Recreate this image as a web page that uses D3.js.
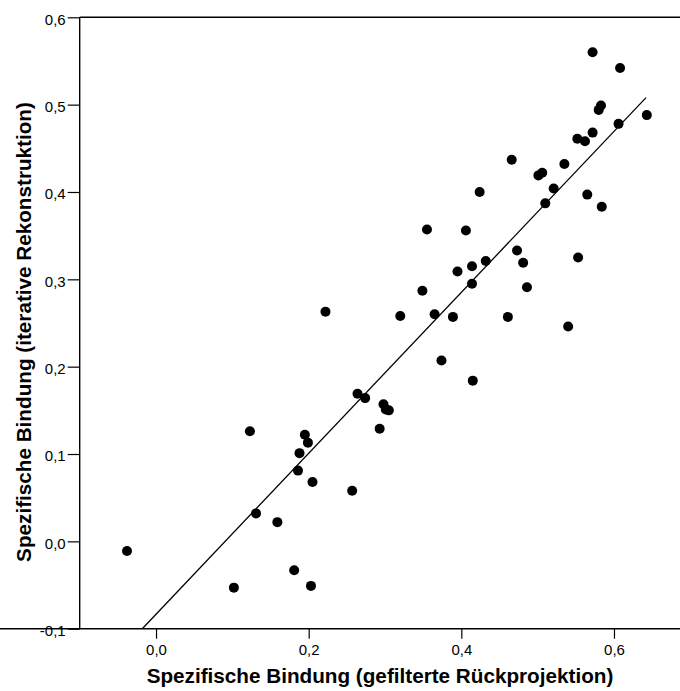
<!DOCTYPE html>
<html><head><meta charset="utf-8">
<script src="https://cdn.jsdelivr.net/npm/d3@7"></script>
<style>body{margin:0;background:#fff}svg{display:block}</style>
</head><body><svg id="c" width="680" height="691"></svg>
<script>
const xValues = [-0.038,0.102,0.131,0.159,0.181,0.203,0.205,0.257,0.123,0.195,0.199,0.188,0.186,0.222,0.264,0.274,0.298,0.301,0.305,0.293,0.320,0.349,0.365,0.389,0.374,0.415,0.414,0.572,0.608,0.583,0.580,0.643,0.606,0.572,0.552,0.562,0.466,0.535,0.506,0.501,0.521,0.424,0.565,0.510,0.584,0.355,0.406,0.473,0.481,0.414,0.432,0.395,0.553,0.486,0.461,0.540];
const yValues = [-0.011,-0.053,0.032,0.022,-0.033,-0.051,0.068,0.058,0.126,0.122,0.113,0.101,0.081,0.263,0.169,0.164,0.157,0.151,0.150,0.129,0.258,0.287,0.260,0.257,0.207,0.184,0.295,0.560,0.542,0.499,0.494,0.488,0.478,0.468,0.461,0.458,0.437,0.432,0.422,0.419,0.404,0.400,0.397,0.387,0.383,0.357,0.356,0.333,0.319,0.315,0.321,0.309,0.325,0.291,0.257,0.246];
const fitX = [-0.018, 0.642];
const fitY = [-0.100, 0.508];
const xTicks = [0.0, 0.2, 0.4, 0.6];
const yTicks = [-0.1, 0.0, 0.1, 0.2, 0.3, 0.4, 0.5, 0.6];
const xTitle = "Spezifische Bindung (gefilterte Rückprojektion)";
const yTitle = "Spezifische Bindung (iterative Rekonstruktion)";

const svg = d3.select("#c");
const font = "'Liberation Sans', Arial, sans-serif";
const x = d3.scaleLinear().domain([-0.1, 0.6865]).range([79.7, 680]);
const y = d3.scaleLinear().domain([-0.1, 0.6]).range([628.7, 17.3]);
const fmt = d => d3.format(".1f")(d).replace(".", ",").replace("−","-");

// top frame line
svg.append("line").attr("x1", x(-0.1)).attr("x2", 680).attr("y1", y(0.6)).attr("y2", y(0.6))
  .attr("stroke", "#000").attr("stroke-width", 1.4);

const gx = svg.append("g").attr("transform", `translate(0,${y(-0.1)})`)
  .call(d3.axisBottom(x).tickValues(xTicks).tickSize(10).tickPadding(6).tickFormat(fmt).tickSizeOuter(0));
const gy = svg.append("g").attr("transform", `translate(${x(-0.1)},0)`)
  .call(d3.axisLeft(y).tickValues(yTicks).tickSize(12).tickPadding(2).tickFormat(fmt).tickSizeOuter(0));
[gx, gy].forEach(g => {
  g.select(".domain").attr("stroke", "#000").attr("stroke-width", 1.4);
  g.selectAll(".tick line").attr("stroke", "#000").attr("stroke-width", 1.2);
  g.selectAll(".tick text").attr("fill", "#000").style("font-family", font).style("font-size", "15px");
});
gy.selectAll(".tick text").attr("dy", "0.45em");
gy.select(".domain").attr("d", `M0,${y(-0.1)}V${y(0.6)}`);
gx.select(".domain").attr("d", `M0,0H680`);

// fit line
svg.append("path").datum(fitX.map((v,i)=>[v, fitY[i]]))
  .attr("d", d3.line().x(d=>x(d[0])).y(d=>y(d[1])))
  .attr("fill","none").attr("stroke","#000").attr("stroke-width",1.3);

// points
svg.append("g").selectAll("circle").data(xValues.map((v,i)=>[v, yValues[i]])).join("circle")
  .attr("cx", d=>x(d[0])).attr("cy", d=>y(d[1])).attr("r", 5).attr("fill", "#000");

// titles
svg.append("text").attr("x", 380).attr("y", 683).attr("text-anchor","middle")
  .style("font-family", font).style("font-weight","bold").style("font-size","20.7px").text(xTitle);
svg.append("text").attr("transform","translate(31,332) rotate(-90)").attr("text-anchor","middle")
  .style("font-family", font).style("font-weight","bold").style("font-size","20.7px").text(yTitle);
</script></body></html>
